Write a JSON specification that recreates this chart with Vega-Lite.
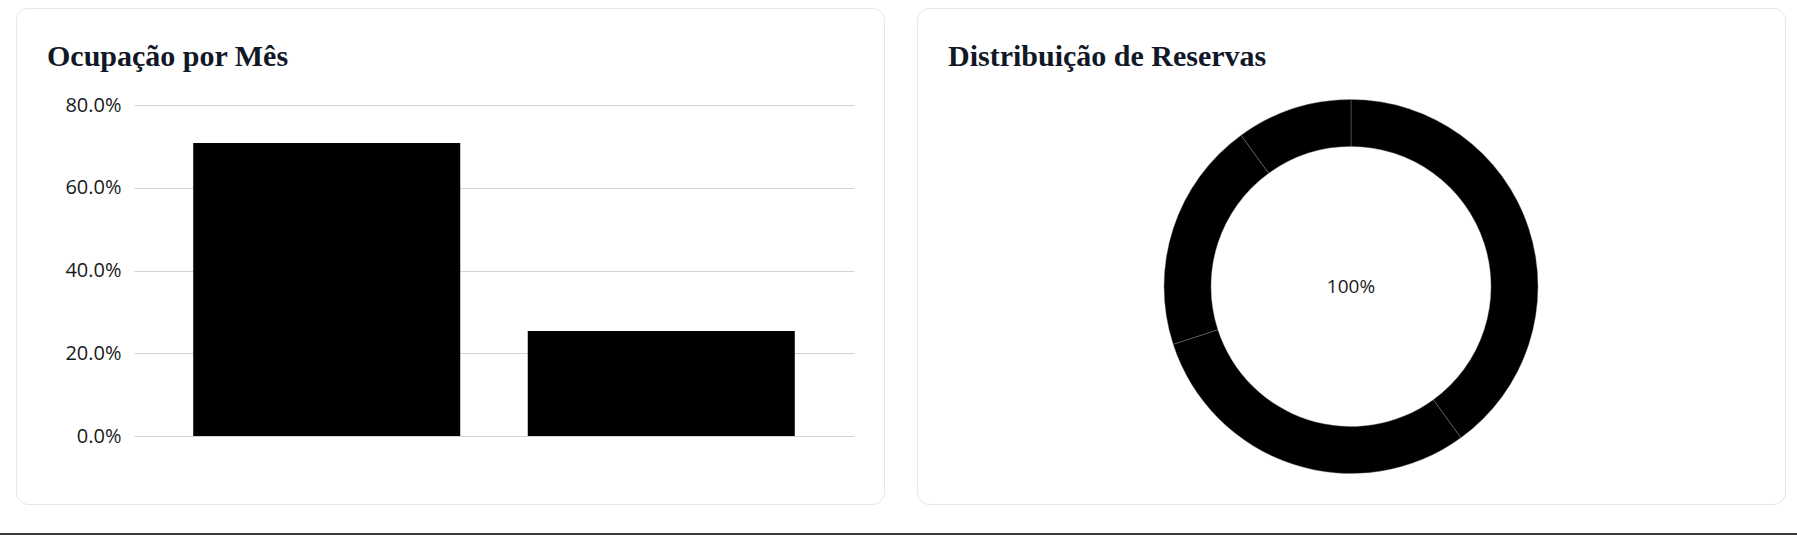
{
  "$schema": "https://vega.github.io/schema/vega-lite/v6.json",
  "background": "white",
  "padding": {"left": 0, "top": 7, "right": 0, "bottom": 0},
  "config": {
    "view": {"stroke": "#e3e6ec", "strokeWidth": 1, "fill": "white", "cornerRadius": 12},
    "title": {"font": "Liberation Serif", "fontSize": 30, "fontWeight": "bold", "color": "#111827", "anchor": "start", "frame": "group"}
  },
  "spacing": 28,
  "vconcat": [
    {
      "spacing": 31,
      "hconcat": [
        {
          "width": 868,
          "height": 496,
          "title": {"text": "Ocupação por Mês", "offset": -64, "dx": 31},
          "data": {"values": [
            {"mes": "Mês 1", "ocupacao": 0.708},
            {"mes": "Mês 2", "ocupacao": 0.254}
          ]},
          "mark": {"type": "bar", "color": "#000000"},
          "encoding": {
            "x": {"field": "mes", "type": "nominal", "sort": null, "axis": null,
                  "scale": {"range": [118, 838], "paddingInner": 0.2018, "paddingOuter": 0.177}},
            "y": {"field": "ocupacao", "type": "quantitative",
                  "scale": {"domain": [0, 0.8], "range": [428, 97]},
                  "axis": {"title": null, "format": ".1%", "values": [0, 0.2, 0.4, 0.6, 0.8],
                           "offset": -118, "domain": false, "ticks": false, "tickSize": 0,
                           "labelPadding": 13, "labelFont": "Open Sans", "labelFontSize": 20,
                           "labelColor": "#1a1a1a", "grid": true, "gridColor": "#d2d2d2", "gridWidth": 1}}
          }
        },
        {
          "width": 868,
          "height": 496,
          "title": {"text": "Distribuição de Reservas", "offset": -64, "dx": 31},
          "layer": [
            {
              "data": {"values": [
                {"categoria": "Categoria 1", "ordem": 1, "valor": 40},
                {"categoria": "Categoria 2", "ordem": 2, "valor": 30},
                {"categoria": "Categoria 3", "ordem": 3, "valor": 20},
                {"categoria": "Categoria 4", "ordem": 4, "valor": 10}
              ]},
              "mark": {"type": "arc", "innerRadius": 140, "outerRadius": 187, "color": "#000000", "stroke": "#8a8a8a", "strokeWidth": 0.4},
              "encoding": {
                "theta": {"field": "valor", "type": "quantitative", "stack": true},
                "detail": {"field": "categoria", "type": "nominal"},
                "order": {"field": "ordem", "type": "quantitative"},
                "y": {"datum": 0, "type": "quantitative", "scale": {"domain": [0, 1], "range": [278.5, 0]}, "axis": null}
              }
            },
            {
              "data": {"values": [{"rotulo": "100%"}]},
              "mark": {"type": "text", "font": "Open Sans", "fontSize": 19, "color": "#1a1a1a", "align": "center", "baseline": "middle"},
              "encoding": {
                "text": {"field": "rotulo", "type": "nominal"},
                "y": {"datum": 0, "type": "quantitative"}
              }
            }
          ]
        }
      ]
    },
    {
      "width": 1781,
      "height": 4,
      "view": {"fill": null, "stroke": null, "cornerRadius": 0},
      "data": {"values": [{"linha": "rodapé"}]},
      "mark": {"type": "rect", "color": "#3a3a3a", "clip": false},
      "encoding": {
        "x": {"datum": 0, "type": "quantitative", "scale": {"domain": [0, 1], "range": [-16, 1781]}, "axis": null},
        "x2": {"datum": 1}
      }
    }
  ]
}
